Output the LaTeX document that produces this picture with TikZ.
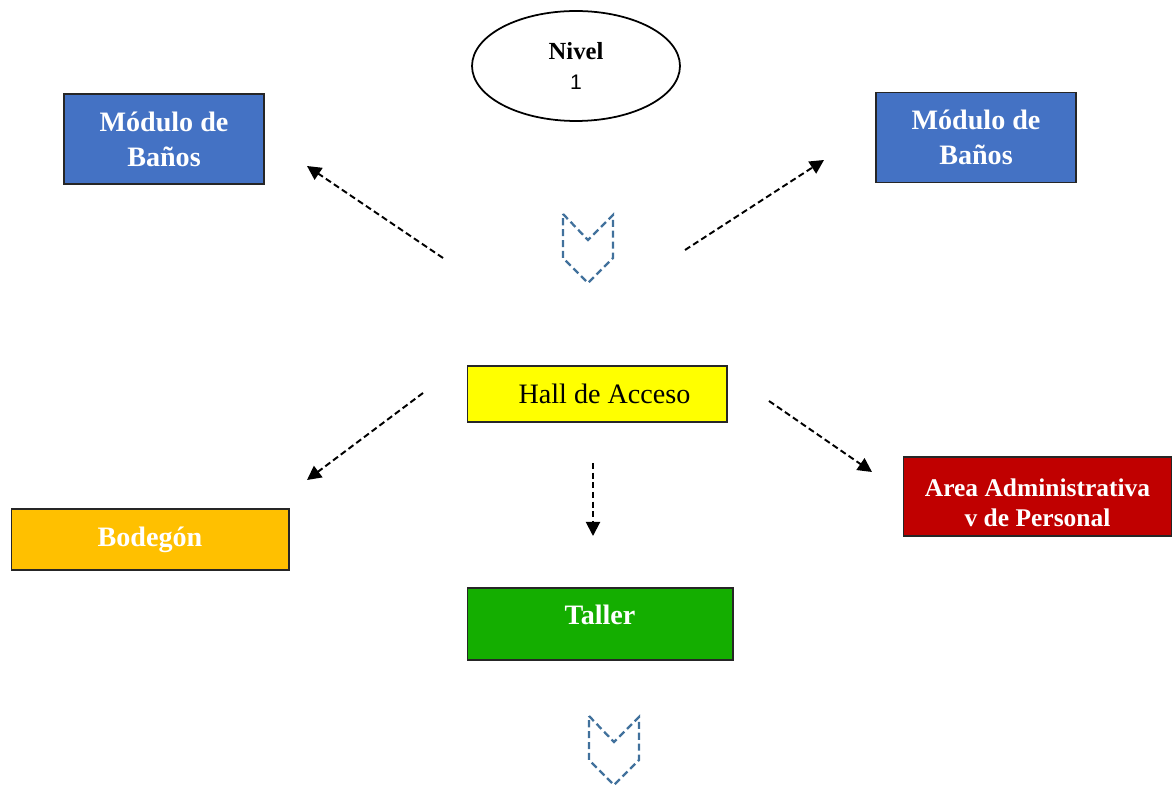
\documentclass[tikz,border=0pt]{standalone}
\usepackage{fontspec}
\setmainfont{Liberation Serif}
\newfontfamily\numfont{Liberation Sans}
\definecolor{modblue}{RGB}{68, 114, 196}
\definecolor{hallyellow}{RGB}{255, 255, 0}
\definecolor{bodorange}{RGB}{255, 192, 0}
\definecolor{tallgreen}{RGB}{20, 174, 0}
\definecolor{admred}{RGB}{192, 0, 0}
\definecolor{chevblue}{RGB}{65, 113, 156}
\usetikzlibrary{shapes.geometric, arrows.meta, positioning}

\begin{document}
\begin{tikzpicture}[
  x=0.02cm, y=-0.02cm,
  zone/.style={draw=black!85, line width=0.6pt, align=center, inner sep=2pt, font=\fontsize{16}{20}\selectfont\bfseries, text=white},
  flow/.style={line width=1.1pt, dash pattern=on 3.5pt off 2pt, -{Triangle[length=8pt, width=8pt]}},
  chev/.style={draw=chevblue, line width=1.3pt, dash pattern=on 4pt off 2.2pt}
]
  \useasboundingbox (0,0) rectangle (1172,786);

  % nivel
  \node[ellipse, draw, line width=1pt, minimum width=4.16cm, minimum height=2.2cm, align=center, inner sep=0pt] (nivel) at (576,66)
    {{\fontsize{14}{17}\selectfont\bfseries Nivel}\\[5pt]{\numfont\fontsize{12}{15}\selectfont 1}};

  % zonas
  \node[zone, line width=1.1pt, fill=modblue, minimum width=4cm, minimum height=1.8cm] (banosL) at (164,139) {M\'odulo de\\Ba\~nos};
  \node[zone, line width=1.1pt, fill=modblue, minimum width=4cm, minimum height=1.8cm] (banosR) at (976,137.5) {M\'odulo de\\Ba\~nos};
  \node[zone, fill=hallyellow, text=black, font=\fontsize{16}{20}\selectfont, minimum width=5.2cm, minimum height=1.12cm] (hall) at (597,394) {\hspace{0.3cm}Hall de Acceso};
  \node[zone, fill=bodorange, minimum width=5.56cm, minimum height=1.22cm] (bodegon) at (150,539.5) {Bodeg\'on};
  \node[zone, fill=tallgreen, minimum width=5.32cm, minimum height=1.44cm, text depth=0.38cm] (taller) at (600,624) {Taller};
  \node[zone, fill=admred, font=\fontsize{14.5}{17}\selectfont\bfseries, minimum width=5.38cm, minimum height=1.58cm, text height=1.2cm] (admin) at (1037.5,496.5) {Area Administrativa\\v de Personal};

  % extremos de flechas
  \coordinate (tlA) at (443,258);
  \coordinate (tlB) at (307,166);
  \coordinate (trA) at (685,250);
  \coordinate (trB) at (824,160);
  \coordinate (blA) at (423,393);
  \coordinate (blB) at (307,480);
  \coordinate (dnA) at (593,463);
  \coordinate (dnB) at (593,536);
  \coordinate (brA) at (769,401);
  \coordinate (brB) at (872,472);

  \draw[flow] (tlA) -- (tlB);
  \draw[flow] (trA) -- (trB);
  \draw[flow] (blA) -- (blB);
  \draw[flow] (dnA) -- (dnB);
  \draw[flow] (brA) -- (brB);

  % chevrones
  \foreach \cx/\cy in {588/214, 614/716}
    \draw[chev] (\cx-25,\cy) -- (\cx,\cy+26) -- (\cx+25,\cy+1) -- (\cx+25,\cy+44) -- (\cx,\cy+69) -- (\cx-25,\cy+44) -- cycle;
\end{tikzpicture}
\end{document}
